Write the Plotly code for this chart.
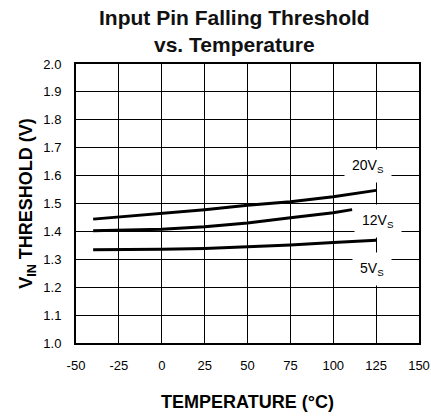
import plotly.graph_objects as go

temp_20 = [-40, -25, 0, 25, 50, 75, 100, 125]
vin_20 = [1.444, 1.452, 1.465, 1.478, 1.494, 1.506, 1.524, 1.547]

temp_12 = [-40, -25, 0, 25, 50, 75, 100, 111]
vin_12 = [1.402, 1.404, 1.408, 1.417, 1.430, 1.449, 1.467, 1.478]

temp_5 = [-40, -25, 0, 25, 50, 75, 100, 125]
vin_5 = [1.334, 1.334, 1.336, 1.339, 1.344, 1.351, 1.360, 1.368]

x_ticks = [-50, -25, 0, 25, 50, 75, 100, 125, 150]
x_ticktext = ["-50", "-25", "0", "25", "50", "75", "100", "125", "150"]

labels = ["20V<sub>S</sub>", "12V<sub>S</sub>", "5V<sub>S</sub>"]
label_x = [120.3, 126, 122.6]
label_y = [1.635, 1.438, 1.266]

fig = go.Figure()
for x, y in [(temp_20, vin_20), (temp_12, vin_12), (temp_5, vin_5)]:
    fig.add_trace(go.Scatter(x=x, y=y, mode="lines",
                             line=dict(color="black", width=3), showlegend=False))

for t, lx, ly in zip(labels, label_x, label_y):
    fig.add_annotation(x=lx, y=ly, text=t, showarrow=False, bgcolor="white",
                       font=dict(size=14, color="black"), borderpad=7)

# title as annotation so both lines stay inside the page
fig.add_annotation(x=0.461, y=1.215, xref="paper", yref="paper", yanchor="top",
                   text="<b>Input Pin Falling Threshold<br>vs. Temperature</b>",
                   showarrow=False, font=dict(size=21, color="#111"))

fig.update_layout(
    width=431, height=416,
    margin=dict(l=76, r=12, t=64, b=73),
    paper_bgcolor="white", plot_bgcolor="white",
    font=dict(family="Liberation Sans, Arial", color="black", size=13),
)
fig.update_xaxes(range=[-50, 150], tickvals=x_ticks, ticktext=x_ticktext,
                 showgrid=True, gridcolor="black", gridwidth=1,
                 showline=True, linecolor="black", linewidth=2, mirror=True,
                 ticks="outside", ticklen=9, tickcolor="rgba(0,0,0,0)",
                 zeroline=False, fixedrange=True, automargin=False,
                 title=dict(text="<b>TEMPERATURE (°C)</b>", font=dict(size=18), standoff=24))
fig.update_yaxes(range=[1.0, 2.0], dtick=0.1, tickformat=".1f",
                 showgrid=True, gridcolor="black", gridwidth=1,
                 showline=True, linecolor="black", linewidth=2, mirror=True,
                 ticks="outside", ticklen=10, tickcolor="rgba(0,0,0,0)",
                 zeroline=False, fixedrange=True, automargin=False,
                 title=dict(text="<b>V<sub>IN</sub> THRESHOLD (V)</b>", font=dict(size=18), standoff=6))

fig.write_html("out.html", config={"displayModeBar": False},
               post_script="document.body.style.margin='0';")
